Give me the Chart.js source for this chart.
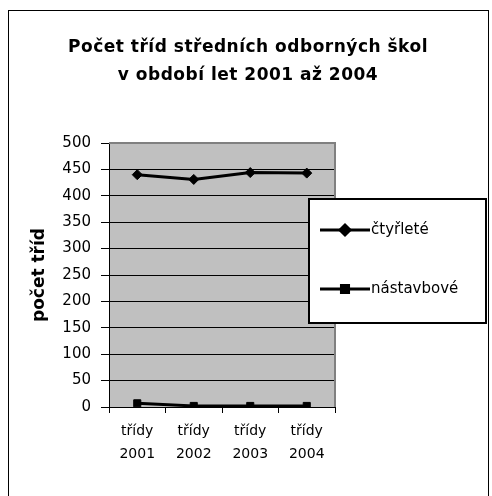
<!DOCTYPE html>
<html>
<head>
<meta charset="utf-8">
<script src="https://cdn.jsdelivr.net/npm/chart.js@4"></script>
<style>
  html, body { margin: 0; padding: 0; background: #fff; }
  #wrap { width: 492px; height: 496px; position: relative; }
</style>
</head>
<body>
<div id="wrap"><canvas id="chart" width="492" height="496"></canvas></div>
<script>
const titleLines = ['Počet tříd středních odborných škol', 'v období let 2001 až 2004'];
const yTitle = 'počet tříd';
const categories = [['třídy', '2001'], ['třídy', '2002'], ['třídy', '2003'], ['třídy', '2004']];
const ctyrlete = [440, 431, 444, 443];
const nastavbove = [7, 2, 2, 2];
const seriesNames = ['čtyřleté', 'nástavbové'];

const font = '"DejaVu Sans", Verdana, sans-serif';

// gray plot area, frame, title and the legend box over the plot
const decor = {
    id: 'decor',
    beforeDraw(chart) {
        const { ctx, chartArea: a } = chart;
        ctx.save();
        ctx.fillStyle = '#fff';
        ctx.fillRect(0, 0, chart.width, chart.height);
        ctx.fillStyle = '#c0c0c0';
        ctx.fillRect(a.left, a.top, a.right - a.left, a.bottom - a.top);
        ctx.strokeStyle = '#000';
        ctx.lineWidth = 1;
        ctx.strokeRect(8.5, 10.5, 480, 500);
        ctx.fillStyle = '#000';
        ctx.font = 'bold 17px ' + font;
        ctx.letterSpacing = '0.5px';
        ctx.textAlign = 'center';
        ctx.textBaseline = 'middle';
        ctx.fillText(titleLines[0], 248, 48);
        ctx.fillText(titleLines[1], 248, 76);
        ctx.letterSpacing = '0px';
        ctx.restore();
    },
    afterDatasetsDraw(chart) {
        const { ctx, chartArea: a } = chart;
        ctx.save();
        ctx.strokeStyle = '#808080';
        ctx.lineWidth = 2;
        ctx.beginPath();
        ctx.moveTo(a.left, a.top);
        ctx.lineTo(a.right, a.top);
        ctx.lineTo(a.right, a.bottom);
        ctx.stroke();
        ctx.restore();
    },
    afterDraw(chart) {
        const ctx = chart.ctx;
        ctx.save();
        ctx.fillStyle = '#fff';
        ctx.fillRect(308, 198, 179, 126);
        ctx.strokeStyle = '#000';
        ctx.lineWidth = 2;
        ctx.strokeRect(309, 199, 177, 124);
        ctx.font = '15px ' + font;
        ctx.textBaseline = 'middle';
        ctx.fillStyle = '#000';
        chart.data.datasets.forEach((ds, i) => {
            const y = [230, 289][i];
            ctx.lineWidth = 3;
            ctx.beginPath();
            ctx.moveTo(320, y);
            ctx.lineTo(370, y);
            ctx.stroke();
            Chart.helpers.drawPoint(ctx, { pointStyle: ds.pointStyle, radius: ds.pointRadius, borderWidth: 1 }, 345, y);
            ctx.fillText(ds.label, 371, y);
        });
        ctx.restore();
    }
};

new Chart(document.getElementById('chart'), {
    type: 'line',
    data: {
        labels: categories,
        datasets: [
            { label: seriesNames[0], data: ctyrlete, borderColor: '#000', backgroundColor: '#000', borderWidth: 3,
              pointStyle: 'rectRot', pointRadius: 5, pointBorderWidth: 1, tension: 0 },
            { label: seriesNames[1], data: nastavbove, borderColor: '#000', backgroundColor: '#000', borderWidth: 3,
              pointStyle: 'rect', pointRadius: 5, pointBorderWidth: 1, tension: 0 }
        ]
    },
    options: {
        responsive: false,
        animation: false,
        layout: { padding: { left: 29, top: 143, right: 157, bottom: 29 } },
        plugins: { legend: { display: false }, title: { display: false }, tooltip: { enabled: false } },
        scales: {
            x: {
                offset: true,
                grid: { offset: true, drawOnChartArea: false, color: '#000', tickLength: 6, tickWidth: 1 },
                border: { color: '#000', width: 1 },
                ticks: { color: '#000', font: { family: font, size: 14, lineHeight: 1.65 }, padding: 7, maxRotation: 0, autoSkip: false },
                afterFit(s) { s.height = 60; }
            },
            y: {
                min: 0, max: 500,
                grid: { color: '#000', lineWidth: 1, tickLength: 8 },
                border: { color: '#000', width: 1 },
                ticks: { stepSize: 50, color: '#000', font: { family: font, size: 15 }, padding: 10 },
                title: { display: true, text: yTitle, color: '#000', font: { family: font, size: 17, weight: 'bold' }, padding: 0 },
                afterFit(s) { s.width = 80; }
            }
        }
    },
    plugins: [decor]
});
</script>
</body>
</html>
